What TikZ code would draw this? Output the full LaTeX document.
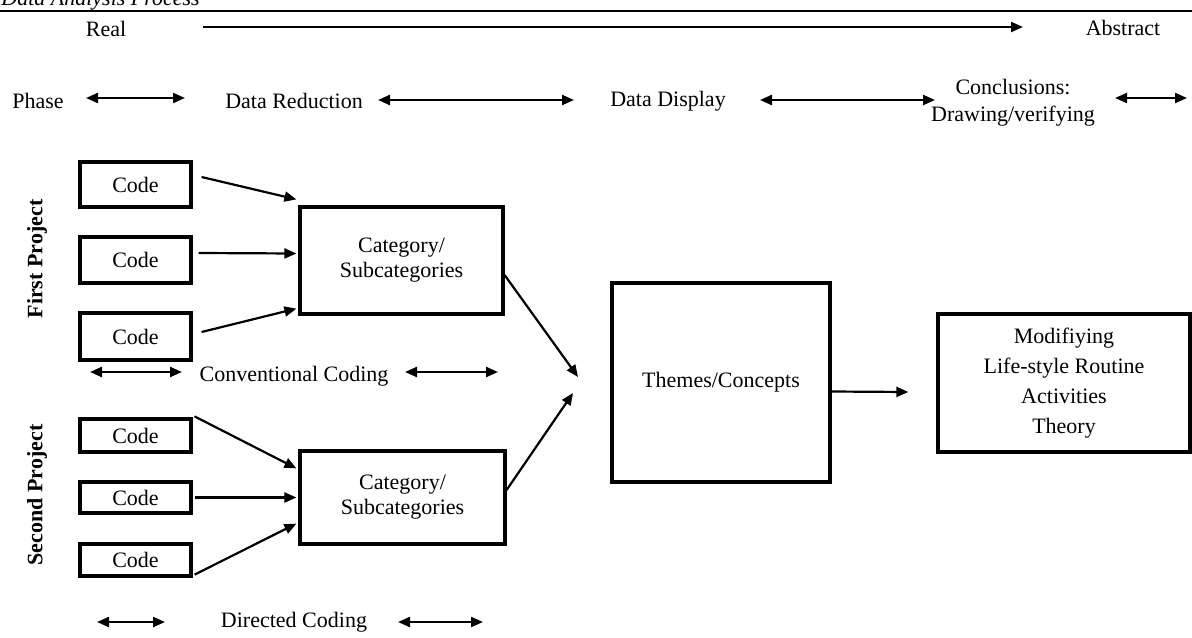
\documentclass[tikz,border=0pt]{standalone}
\usepackage{fontspec}
\setmainfont{Liberation Serif}
\usetikzlibrary{arrows.meta}

\begin{document}
\begin{tikzpicture}[x=0.5pt, y=-0.5pt, font=\fontsize{11}{12.5}\selectfont,
  box/.style={draw=black, line width=1.6pt, align=center, inner sep=0pt},
  txt/.style={align=center, inner sep=0pt},
  arr/.style={-{Triangle[length=6pt,width=5pt]}, line width=1.1pt},
  darr/.style={{Triangle[length=6pt,width=5pt]}-{Triangle[length=6pt,width=5pt]}, line width=1.1pt}]
\useasboundingbox (0,0) rectangle (1192,637);
\clip (0,0) rectangle (1192,637);
\node[txt, anchor=base west, font=\fontsize{11}{12.5}\selectfont\itshape] (title) at (1,5) {Data Analysis Process};
\draw[line width=1pt] (0,10.5) -- (1192,10.5);
\node[txt] (real) at (106,29) {Real};
\node[txt] (abstract) at (1123,28) {Abstract};
\node[txt] (phase) at (38,101) {Phase};
\node[txt] (reduction) at (294,101) {Data Reduction};
\node[txt] (display) at (668,101) {Data Display};
\node[txt, font=\fontsize{11}{13.5}\selectfont] (conclusions) at (1013,103) {Conclusions:\\Drawing/verifying};
\coordinate (r1) at (203,27); \coordinate (r2) at (1023,27);
\coordinate (p1) at (86,98); \coordinate (p2) at (185,98);
\coordinate (d1) at (378,100); \coordinate (d2) at (574,100);
\coordinate (s1) at (760,100); \coordinate (s2) at (935,100);
\coordinate (c1) at (1115,98); \coordinate (c2) at (1187,98);
\path[arr] (r1) edge (r2);
\path[darr] (p1) edge (p2);
\path[darr] (d1) edge (d2);
\path[darr] (s1) edge (s2);
\path[darr] (c1) edge (c2);
\node[txt, rotate=90, font=\fontsize{11}{12.5}\selectfont\bfseries] (first) at (37,259) {First Project};
\node[txt, rotate=90, font=\fontsize{11}{12.5}\selectfont\bfseries] (second) at (37,495) {Second Project};
\node[box, minimum width=55.5pt, minimum height=22.5pt] (code1a) at (135.5,184.5) {Code};
\node[box, minimum width=55.5pt, minimum height=23pt] (code1b) at (135.5,260) {Code};
\node[box, minimum width=55.5pt, minimum height=23.5pt] (code1c) at (135.5,336.5) {Code};
\node[box, minimum width=101.5pt, minimum height=53.5pt] (cat1) at (401.5,260.5) {Category/\\Subcategories};
\node[box, minimum width=55.5pt, minimum height=16.5pt] (code2a) at (135.5,435.5) {Code};
\node[box, minimum width=55.5pt, minimum height=15.5pt] (code2b) at (135.5,497.5) {Code};
\node[box, minimum width=55.5pt, minimum height=16pt] (code2c) at (135.5,560) {Code};
\node[box, minimum width=102.5pt, minimum height=46.5pt] (cat2) at (402.5,497.5) {Category/\\Subcategories};
\node[box, minimum width=109pt, minimum height=99.5pt] (themes) at (721,382.5) {Themes/Concepts};
\node[box, minimum width=126pt, minimum height=69pt, font=\fontsize{11}{15}\selectfont] (modify) at (1064,383) {Modifiying\\Life-style Routine\\Activities\\Theory};
\node[txt] (conventional) at (294,376) {Conventional Coding};
\node[txt] (directed) at (294,622) {Directed Coding};
\coordinate (v1) at (90,372); \coordinate (v2) at (182,372);
\coordinate (v3) at (405,372); \coordinate (v4) at (498,372);
\coordinate (g1) at (97,622); \coordinate (g2) at (165,622);
\coordinate (g3) at (398,622); \coordinate (g4) at (483,622);
\path[darr] (v1) edge (v2);
\path[darr] (v3) edge (v4);
\path[darr] (g1) edge (g2);
\path[darr] (g3) edge (g4);
\draw[arr] ([xshift=4.5pt,yshift=3.75pt]code1a.east) -- ([xshift=-1pt,yshift=3pt]cat1.north west);
\draw[arr] ([xshift=3pt,yshift=3.5pt]code1b.east) -- ([xshift=-1pt,yshift=3.5pt]cat1.west);
\draw[arr] ([xshift=4.5pt,yshift=2.25pt]code1c.east) -- ([xshift=-1pt,yshift=3.5pt]cat1.south west);
\draw[arr] ([xshift=1pt,yshift=0.5pt]code2a.north east) -- ([xshift=-1pt,yshift=-9.5pt]cat2.north west);
\draw[arr] ([xshift=1pt]code2b.east) -- ([xshift=-1pt]cat2.west);
\draw[arr] ([xshift=1pt,yshift=1.5pt]code2c.south east) -- ([xshift=-1pt,yshift=11pt]cat2.south west);
\coordinate (t1) at (578,377);
\coordinate (t2) at (573,393);
\draw[arr] ([yshift=-7.25pt]cat1.east) -- (t1);
\draw[arr] ([yshift=3.75pt]cat2.east) -- (t2);
\draw[arr] ([yshift=-4.5pt]themes.east) -- ([xshift=-14pt,yshift=-4.5pt]modify.west);
\end{tikzpicture}
\end{document}
